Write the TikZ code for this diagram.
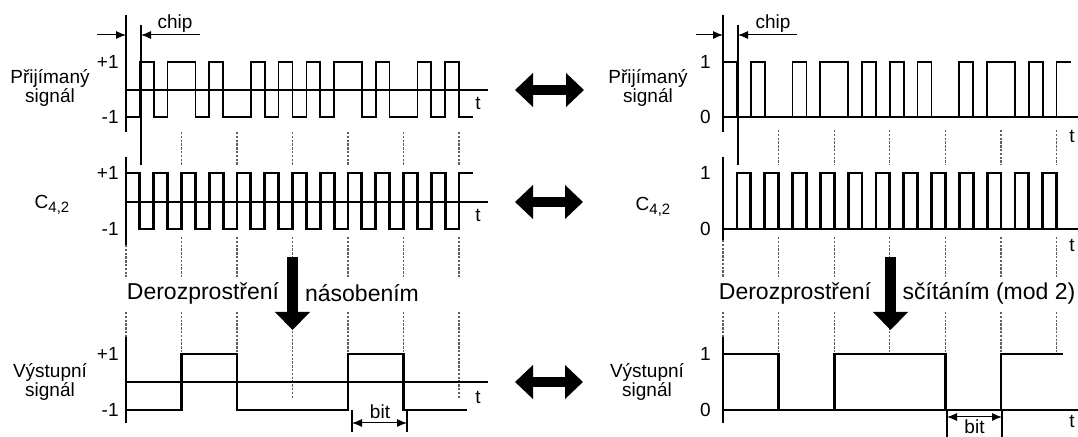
\documentclass[tikz,border=0pt]{standalone}
\usepackage{fontspec}
\setmainfont{Liberation Sans}
\usepackage{tikz}
\usetikzlibrary{arrows.meta, positioning}
\definecolor{mygrid}{RGB}{95,95,95}
\tikzset{
  lbl/.style={font=\fontsize{9.5}{9.5}\selectfont, inner sep=0pt, align=center},
  biglbl/.style={font=\fontsize{11.5}{13}\selectfont, inner sep=0pt},
  axis/.style={line width=0.6pt},
  thinwave/.style={line width=0.85pt},
  thickwave/.style={line width=1.4pt},
  gridline/.style={mygrid, line width=0.65pt, dash pattern=on 1.2pt off 0.7pt},
  dimarrow/.style={line width=0.5pt, {Latex[length=5pt,width=4pt]}-{Latex[length=5pt,width=4pt]}},
  onearrow/.style={line width=0.5pt, -{Latex[length=5pt,width=4pt]}},
  bigarrow/.style={line width=5.5pt, -{Triangle[length=9pt,width=17pt]}},
  dblarrow/.style={line width=5pt, {Triangle[length=9pt,width=16.5pt]}-{Triangle[length=9pt,width=16.5pt]}}
}
\newcommand{\csub}{C\raisebox{-0.45ex}{\fontsize{7.5}{7.5}\selectfont 4,2}}

\begin{document}
\begin{tikzpicture}[x=0.5pt, y=-0.5pt]
  \useasboundingbox (0,0) rectangle (1078,437);

  % Bit boundaries (dashed)
  \foreach \k in {1,...,6} {
    \draw[gridline] ({126+55.5*\k},132) -- ({126+55.5*\k},165);
    \draw[gridline] ({126+55.5*\k},237) -- ({126+55.5*\k},277);
    \draw[gridline] ({126+55.5*\k},312) -- ({126+55.5*\k},398);
    \draw[gridline] ({723+55.6*\k},130) -- ({723+55.6*\k},165);
    \draw[gridline] ({723+55.6*\k},237) -- ({723+55.6*\k},277);
    \draw[gridline] ({723+55.6*\k},312) -- ({723+55.6*\k},354);
  }
  \draw[gridline] (126,245) -- (126,277);
  \draw[gridline] (126,312) -- (126,337);
  \draw[gridline] (723,240) -- (723,277);
  \draw[gridline] (723,312) -- (723,337);

  % Left: axes
  \draw[axis] (126,15) -- (126,132);
  \draw[axis] (126,90) -- (488,90);
  \draw[axis] (141,25) -- (141,165);
  \draw[axis] (126,157) -- (126,245);
  \draw[axis] (126,202) -- (488,202);
  \draw[axis] (126,337) -- (126,423);
  \draw[axis] (126,382) -- (488,382);

  % Right: axes
  \draw[axis] (723,15) -- (723,132);
  \draw[axis] (723,117) -- (1078,117);
  \draw[axis] (738,25) -- (738,165);
  \draw[axis] (723,157) -- (723,240);
  \draw[axis] (723,229) -- (1078,229);
  \draw[axis] (723,337) -- (723,423);
  \draw[axis] (723,410) -- (1078,410);

  % Left: received signal, code, output
  \draw[thinwave] (126,117) \foreach \h [count=\k from 0] in
    {0,1,0,1,1,0,1,0,0,1,0,1,0,1,0,1,1,0,1,0,0,1,0,1,0}
    { -- ({126+13.875*\k},{117-55*\h}) -- ({126+13.875*(\k+1)},{117-55*\h}) };
  \draw[thickwave] (126,173) \foreach \h [count=\k from 0] in
    {1,0,1,0,1,0,1,0,1,0,1,0,1,0,1,0,1,0,1,0,1,0,1,0,1}
    { -- ({126+13.875*\k},{229-56*\h}) -- ({126+13.875*(\k+1)},{229-56*\h}) };
  \draw[thickwave] (126,410) \foreach \h [count=\k from 0] in {0,1,0,0,1,0}
    { -- ({126+55.5*\k},{410-56*\h}) -- ({126+55.5*(\k+1)},{410-56*\h}) } -- (467,410);

  % Right: received signal, code, output
  \draw[thinwave] (723,62) \foreach \h [count=\k from 0] in
    {1,0,1,0,0,1,0,1,1,0,1,0,1,0,1,0,0,1,0,1,1,0,1,0,1}
    { -- ({723+13.9*\k},{117-55*\h}) -- ({723+13.9*(\k+1)},{117-55*\h}) };
  \draw[thickwave] (723,229) \foreach \h [count=\k from 0] in
    {0,1,0,1,0,1,0,1,0,1,0,1,0,1,0,1,0,1,0,1,0,1,0,1,0}
    { -- ({723+13.9*\k},{229-56*\h}) -- ({723+13.9*(\k+1)},{229-56*\h}) };
  \draw[thickwave] (723,354) \foreach \h [count=\k from 0] in {1,0,1,1,0,1}
    { -- ({723+55.6*\k},{410-56*\h}) -- ({723+55.6*(\k+1)},{410-56*\h}) } -- (1063,354);

  % Chip dimension
  \coordinate (chipLa) at (97,35);   \coordinate (chipLb) at (126,35);
  \coordinate (chipLc) at (200,35);  \coordinate (chipLd) at (141,35);
  \coordinate (chipRa) at (696,35);  \coordinate (chipRb) at (723,35);
  \coordinate (chipRc) at (797,35);  \coordinate (chipRd) at (738,35);
  \draw[onearrow] (chipLa) -- (chipLb);
  \draw[onearrow] (chipLc) -- (chipLd);
  \draw[onearrow] (chipRa) -- (chipRb);
  \draw[onearrow] (chipRc) -- (chipRd);
  \node[lbl] (chipL) at (175,24) {chip};
  \node[lbl] (chipR) at (773,24) {chip};

  % Bit dimension
  \coordinate (bitLa) at (352,423);  \coordinate (bitLb) at (407,423);
  \coordinate (bitRa) at (947,417);  \coordinate (bitRb) at (1002,417);
  \draw[axis] (352,410) -- (352,432);
  \draw[axis] (407,410) -- (407,432);
  \draw[axis] (947,410) -- (947,437);
  \draw[axis] (1002,410) -- (1002,437);
  \draw[dimarrow] (bitLa) -- (bitLb);
  \draw[dimarrow] (bitRa) -- (bitRb);
  \node[lbl] (bitL) at (380,412) {bit};
  \node[lbl] (bitR) at (974.5,427) {bit};

  % Signal names
  \node[lbl] (rxL) at (50,88) {Přijímaný\\signál};
  \node[lbl] (codeL) at (52,205) {\csub};
  \node[lbl] (outL) at (50,382) {Výstupní\\signál};
  \node[lbl] (rxR) at (648,88) {Přijímaný\\signál};
  \node[lbl] (codeR) at (653,207) {\csub};
  \node[lbl] (outR) at (647,382) {Výstupní\\signál};

  % Levels
  \node[lbl, anchor=east] (lvL1) at (119,62)  {+1};
  \node[lbl, anchor=east] (lvL2) at (119,117) {-1};
  \node[lbl, anchor=east] (lvL3) at (119,173) {+1};
  \node[lbl, anchor=east] (lvL4) at (119,229) {-1};
  \node[lbl, anchor=east] (lvL5) at (119,354) {+1};
  \node[lbl, anchor=east] (lvL6) at (119,410) {-1};
  \node[lbl, anchor=east] (lvR1) at (711,62)  {1};
  \node[lbl, anchor=east] (lvR2) at (711,117) {0};
  \node[lbl, anchor=east] (lvR3) at (711,173) {1};
  \node[lbl, anchor=east] (lvR4) at (711,229) {0};
  \node[lbl, anchor=east] (lvR5) at (711,354) {1};
  \node[lbl, anchor=east] (lvR6) at (711,410) {0};

  % Time labels
  \node[lbl] (tL1) at (478,103) {t};
  \node[lbl] (tL2) at (478,215) {t};
  \node[lbl] (tL3) at (478,397) {t};
  \node[lbl] (tR1) at (1072,136) {t};
  \node[lbl] (tR2) at (1072,245) {t};
  \node[lbl] (tR3) at (1072,421) {t};

  % Despreading
  \node[biglbl] (despL1) at (203,293) {Derozprostření};
  \node[biglbl] (despL2) at (362,293) {násobením};
  \node[biglbl] (despR1) at (795,293) {Derozprostření};
  \node[biglbl] (despR2) at (989,293) {sčítáním (mod 2)};
  \coordinate (downLa) at (292.5,257); \coordinate (downLb) at (292.5,330);
  \coordinate (downRa) at (890.5,257); \coordinate (downRb) at (890.5,330);
  \draw[bigarrow] (downLa) -- (downLb);
  \draw[bigarrow] (downRa) -- (downRb);

  % Equivalence arrows
  \coordinate (eqA1) at (515,90);  \coordinate (eqB1) at (584,90);
  \coordinate (eqA2) at (515,202); \coordinate (eqB2) at (583,202);
  \coordinate (eqA3) at (515,382); \coordinate (eqB3) at (583,382);
  \draw[dblarrow] (eqA1) -- (eqB1);
  \draw[dblarrow] (eqA2) -- (eqB2);
  \draw[dblarrow] (eqA3) -- (eqB3);
\end{tikzpicture}
\end{document}
